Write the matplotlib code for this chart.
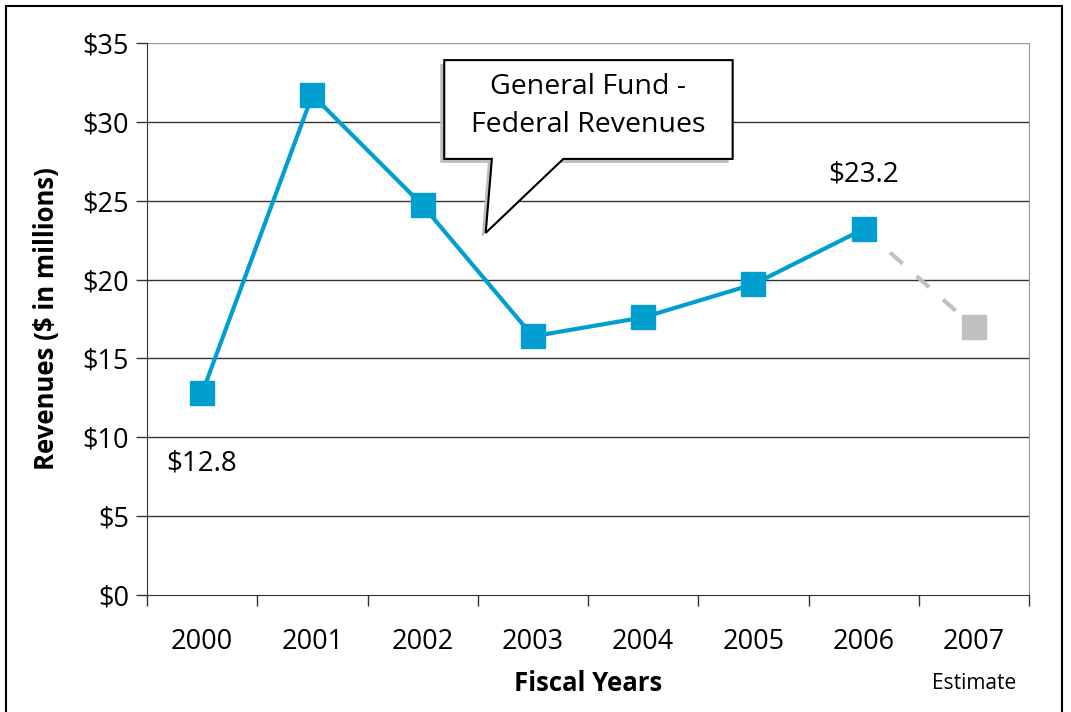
import matplotlib
matplotlib.use("Agg")
import matplotlib.pyplot as plt
from matplotlib.patches import Polygon, Rectangle
import numpy as np

plt.rcParams["font.family"] = ["Open Sans", "DejaVu Sans"]

years = ["2000", "2001", "2002", "2003", "2004", "2005", "2006", "2007"]
revenues = [12.8, 31.7, 24.7, 16.4, 17.6, 19.7, 23.2]   # actuals 2000-2006
estimate_2007 = 17.0
y_ticks = [0, 5, 10, 15, 20, 25, 30, 35]

BLUE = "#009fd0"
GREY = "#c0c0c0"

fig = plt.figure(figsize=(10.71, 7.12), dpi=100)
ax = fig.add_axes([147 / 1071, 1 - 595 / 712, 882 / 1071, 552 / 712])

x = np.arange(len(years))
# estimate segment first so the 2006 marker sits on top
ax.plot([x[6], x[7]], [revenues[-1], estimate_2007], color=GREY, lw=3,
        dashes=(4, 4.5), zorder=3)
ax.plot(x[7], estimate_2007, marker="s", ms=17, color=GREY, mec=GREY, zorder=4)
ax.plot(x[:7], revenues, color=BLUE, lw=3, marker="s", ms=17, mec=BLUE, zorder=5)

ax.set_xlim(-0.5, 7.5)
ax.set_ylim(0, 35)
ax.set_yticks(y_ticks)
ax.set_yticklabels([f"${v}" for v in y_ticks], fontsize=19.5)
ax.set_xticks(np.arange(-0.5, 8, 1))
ax.set_xticklabels([])
ax.set_xticks(x, minor=True)
ax.set_xticklabels(years, minor=True, fontsize=19.5)
ax.tick_params(axis="x", which="major", length=8, width=1, color="#333333")
ax.tick_params(axis="x", which="minor", length=0, pad=24)
ax.tick_params(axis="y", length=8, width=1, color="#333333", pad=5)

for v in y_ticks[1:-1]:
    ax.axhline(v, color="#333333", lw=1, zorder=1)
ax.axhline(35, color="#999999", lw=1, zorder=1)
ax.spines["top"].set_visible(False)
ax.spines["right"].set_color("#999999")
ax.spines["left"].set_color("#333333")
ax.spines["bottom"].set_color("#333333")

ax.set_ylabel("Revenues ($ in millions)", fontsize=18.5, fontweight="bold", labelpad=16)
ax.set_xlabel("Fiscal Years", fontsize=18.5, fontweight="bold", labelpad=10)
ax.text(7, -0.16, "Estimate", transform=ax.get_xaxis_transform(), ha="center",
        va="center", fontsize=15)

ax.annotate(f"${revenues[0]}", (x[0], revenues[0]), xytext=(0, -51),
            textcoords="offset points", ha="center", va="center", fontsize=20)
ax.annotate(f"${revenues[6]}", (x[6], revenues[6]), xytext=(0, 39),
            textcoords="offset points", ha="center", va="center", fontsize=20)

# callout box with tail
bx0, bx1, by0, by1 = 0.337, 0.664, 0.790, 0.969
tail = [(0.391, by0), (0.384, 0.656), (0.472, by0)]
outline = [(bx0, by1), (bx1, by1), (bx1, by0), tail[2], tail[1], tail[0], (bx0, by0)]
dx, dy = -4 / 882, -4 / 552
shadow = Polygon([(px + dx, py + dy) for px, py in outline], closed=True,
                 transform=ax.transAxes, fc="#bdbdbd", ec="none", zorder=6, clip_on=False)
box = Polygon(outline, closed=True, transform=ax.transAxes, fc="white",
              ec="black", lw=1.5, zorder=7, clip_on=False)
ax.add_patch(shadow)
ax.add_patch(box)
ax.text((bx0 + bx1) / 2, (by0 + by1) / 2 + 0.006, "General Fund -\nFederal Revenues",
        transform=ax.transAxes, ha="center", va="center", fontsize=20.5,
        linespacing=1.45, zorder=8)

# outer frame
fig.patches.append(Rectangle((6 / 1071, -0.01), 1056 / 1071, 1 - 6 / 712 + 0.01,
                             transform=fig.transFigure, fill=False, ec="black", lw=1.5))

fig.savefig("out.png", dpi=100)
